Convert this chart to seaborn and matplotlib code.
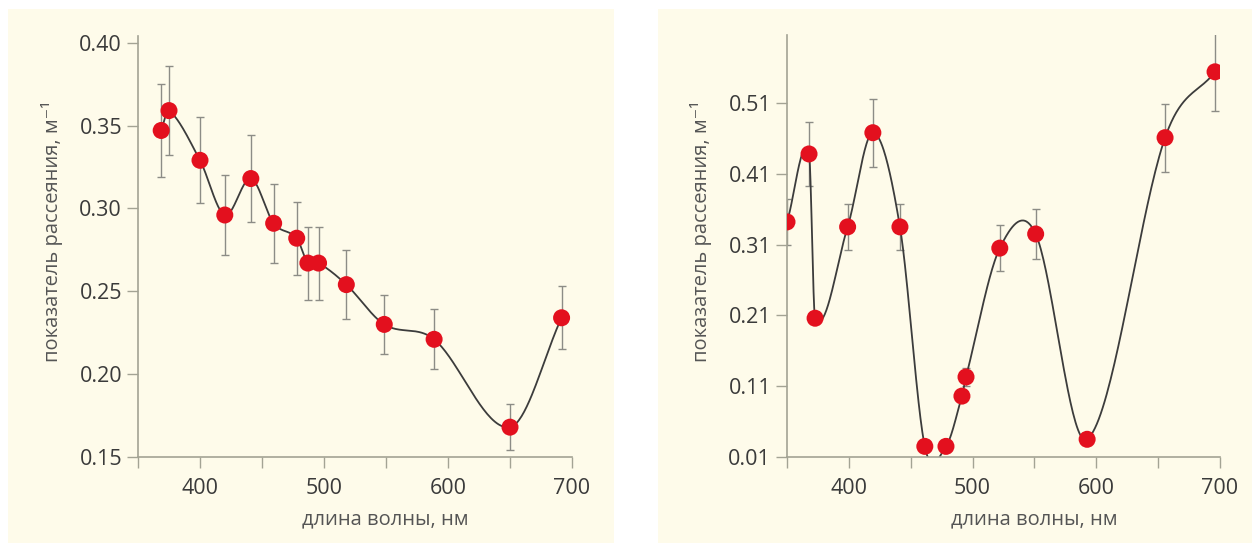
import numpy as np
import pandas as pd
import matplotlib
matplotlib.use('Agg')
import matplotlib.pyplot as plt
from matplotlib.patches import Rectangle
import seaborn as sns

# left panel
wl_left = [368.7, 375, 400, 420, 441, 459.4, 478, 487, 495.6, 518, 548.6, 588.8, 650, 691.6]
sc_left = [0.347, 0.359, 0.329, 0.296, 0.318, 0.291, 0.282, 0.267, 0.267, 0.254, 0.230, 0.221, 0.168, 0.234]
err_left = [0.028, 0.027, 0.026, 0.024, 0.026, 0.024, 0.022, 0.022, 0.022, 0.021, 0.018, 0.018, 0.014, 0.019]

# right panel
wl_right = [350, 367.8, 372.7, 399, 419.4, 441.3, 461.4, 478.5, 491.4, 494.7, 522, 551, 592.6, 655.6, 696]
sc_right = [0.342, 0.438, 0.206, 0.335, 0.468, 0.335, 0.025, 0.025, 0.096, 0.123, 0.305, 0.325, 0.035, 0.461, 0.554]
err_right = [0.033, 0.045, 0.0, 0.033, 0.048, 0.033, 0.0, 0.0, 0.0, 0.013, 0.033, 0.035, 0.0, 0.048, 0.056]

xticks = [400, 500, 600, 700]
yticks_left = [0.15, 0.20, 0.25, 0.30, 0.35, 0.40]
yticks_right = [0.01, 0.11, 0.21, 0.31, 0.41, 0.51]
xlabel = 'длина волны, нм'
ylabel = 'показатель рассеяния, м⁻¹'

CREAM = '#fefbea'
RED = '#e3101e'
SPINE = '#a3a394'


def smooth(x, y, n=40):
    # cardinal (Catmull-Rom style) hermite spline through the points
    x = np.asarray(x, float)
    y = np.asarray(y, float)
    m = np.zeros_like(y)
    m[1:-1] = (y[2:] - y[:-2]) / (x[2:] - x[:-2])
    m[0] = (y[1] - y[0]) / (x[1] - x[0])
    m[-1] = (y[-1] - y[-2]) / (x[-1] - x[-2])
    xs, ys = [], []
    for i in range(len(x) - 1):
        h = x[i + 1] - x[i]
        t = np.linspace(0, 1, n, endpoint=False)
        h00 = 2 * t**3 - 3 * t**2 + 1
        h10 = t**3 - 2 * t**2 + t
        h01 = -2 * t**3 + 3 * t**2
        h11 = t**3 - t**2
        xs.append(x[i] + t * h)
        ys.append(h00 * y[i] + h10 * h * m[i] + h01 * y[i + 1] + h11 * h * m[i + 1])
    xs.append([x[-1]])
    ys.append([y[-1]])
    return np.concatenate(xs), np.concatenate(ys)


sns.set_style('white')
plt.rcParams['font.family'] = ['Open Sans', 'DejaVu Sans']

fig = plt.figure(figsize=(12.52, 5.43), dpi=100)
fig.add_artist(Rectangle((8 / 1252, 0), 606 / 1252, 534 / 543, transform=fig.transFigure,
                         facecolor=CREAM, edgecolor='none', zorder=-10))
fig.add_artist(Rectangle((658 / 1252, 0), 594 / 1252, 534 / 543, transform=fig.transFigure,
                         facecolor=CREAM, edgecolor='none', zorder=-10))

ax1 = fig.add_axes([138 / 1252, 86 / 543, 434 / 1252, 421 / 543])
ax2 = fig.add_axes([787 / 1252, 86 / 543, 433 / 1252, 422 / 543])

panels = [
    (ax1, wl_left, sc_left, err_left, yticks_left, (0.15, 0.404), '%.2f'),
    (ax2, wl_right, sc_right, err_right, yticks_right, (0.01, 0.606), '%.2f'),
]

for ax, wl, sc, err, yt, ylim, fmt in panels:
    ax.set_facecolor('none')
    df = pd.DataFrame({'wl': wl, 'sc': sc, 'err': err})
    cx, cy = smooth(wl, sc)
    curve = pd.DataFrame({'wl': cx, 'sc': cy})
    sns.lineplot(data=curve, x='wl', y='sc', sort=False, color='#3c3c3c', lw=1.3, ax=ax, zorder=2)
    ax.errorbar(df['wl'], df['sc'], yerr=df['err'], fmt='none', ecolor='#8c8c86',
                elinewidth=1.0, capsize=3, capthick=1.0, zorder=1)
    sns.scatterplot(data=df, x='wl', y='sc', color=RED, s=150, edgecolor='none', ax=ax, zorder=3)

    ax.set_xlim(350, 700)
    ax.set_ylim(*ylim)
    ax.set_xticks(xticks)
    ax.set_xticks([350, 450, 550, 650], minor=True)
    ax.set_yticks(yt)
    ax.yaxis.set_major_formatter(matplotlib.ticker.FormatStrFormatter(fmt))
    ax.tick_params(axis='both', which='both', direction='out', length=8, width=1.0,
                   color=SPINE, labelsize=15.5, labelcolor='#3a3a3a', bottom=True, left=True)
    ax.tick_params(axis='x', pad=7)
    for s in ['top', 'right']:
        ax.spines[s].set_visible(False)
    for s in ['left', 'bottom']:
        ax.spines[s].set_color(SPINE)
        ax.spines[s].set_linewidth(1.2)
    ax.set_xlabel(xlabel, fontsize=14.5, color='#555555', labelpad=6)
    ax.set_ylabel(ylabel, fontsize=14.5, color='#555555', labelpad=12)
    ax.xaxis.set_label_coords(0.57, -0.125)
    ax.yaxis.get_label().set_y(0.535)

fig.savefig('out.png', dpi=100)
